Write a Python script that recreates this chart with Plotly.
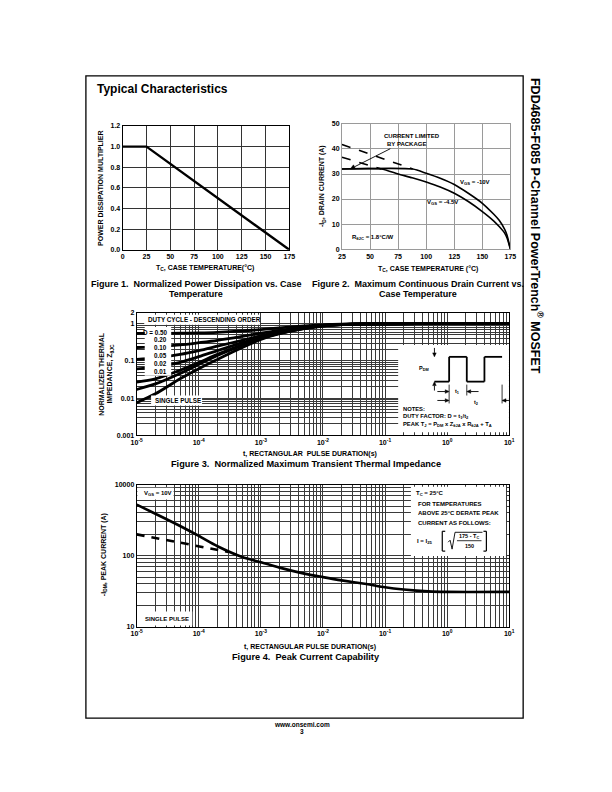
import math
import plotly.graph_objects as go

W, H = 612, 792
FONT = "Liberation Sans, Arial, Helvetica, sans-serif"


def X(p):
    return p / W


def Y(p):
    return 1 - p / H


# ---------------- data ----------------
# Figure 1: power derating
f1_temp = [0, 25, 175]
f1_mult = [1.0, 1.0, 0.0]
f1_xticks = [0, 25, 50, 75, 100, 125, 150, 175]
f1_yticks = [0.0, 0.2, 0.4, 0.6, 0.8, 1.0, 1.2]
f1_yticktext = ["0.0", "0.2", "0.4", "0.6", "0.8", "1.0", "1.2"]

# Figure 2: max continuous drain current
f2_temp_10v = [25, 88, 100, 112.5, 125, 137.5, 150, 160, 165, 170, 172, 175]
f2_id_10v = [32, 32, 30.3, 28.3, 25.8, 22.3, 18.3, 14.0, 11.5, 7.8, 5.5, 0]
f2_temp_45v = [25, 60, 75, 87.5, 100, 112.5, 125, 137.5, 150, 160, 165, 170, 172, 175]
f2_id_45v = [32, 32, 30.0, 28.5, 26.8, 24.8, 22.3, 19.0, 15.0, 11.3, 9.0, 6.3, 4.5, 0]
f2_temp_10v_unl = [25, 88]
f2_id_10v_unl = [41.8, 32]
f2_temp_45v_unl = [25, 60]
f2_id_45v_unl = [36.7, 32]
f2_xticks = [25, 50, 75, 100, 125, 150, 175]
f2_yticks = [0, 10, 20, 30, 40, 50]

# Figure 3: transient thermal impedance
f3_t = [1e-5, 2e-5, 5e-5, 1e-4, 2e-4, 5e-4, 1e-3, 2e-3, 5e-3, 1e-2, 2e-2, 5e-2, 1e-1, 1, 10]
f3_z = {
    "0.50": [0.55, 0.55, 0.56, 0.57, 0.59, 0.64, 0.70, 0.78, 0.88, 0.94, 0.98, 1.0, 1.0, 1.02, 1.02],
    "0.20": [0.23, 0.24, 0.27, 0.31, 0.36, 0.46, 0.56, 0.67, 0.82, 0.91, 0.97, 1.0, 1.0, 1.02, 1.02],
    "0.10": [0.11, 0.12, 0.15, 0.19, 0.25, 0.36, 0.48, 0.61, 0.78, 0.90, 0.96, 1.0, 1.0, 1.02, 1.02],
    "0.05": [0.061, 0.068, 0.092, 0.13, 0.19, 0.31, 0.44, 0.58, 0.77, 0.89, 0.96, 1.0, 1.0, 1.02, 1.02],
    "0.02": [0.027, 0.033, 0.056, 0.09, 0.15, 0.27, 0.41, 0.56, 0.76, 0.88, 0.96, 1.0, 1.0, 1.02, 1.02],
    "0.01": [0.017, 0.024, 0.046, 0.08, 0.14, 0.26, 0.40, 0.55, 0.75, 0.88, 0.95, 1.0, 1.0, 1.02, 1.02],
    "single": [0.0075, 0.013, 0.033, 0.062, 0.11, 0.23, 0.38, 0.54, 0.74, 0.87, 0.95, 0.99, 1.0, 1.02, 1.02],
}
f3_duty_labels = ["D = 0.50", "0.20", "0.10", "0.05", "0.02", "0.01"]
f3_xtickvals = [1e-5, 1e-4, 1e-3, 1e-2, 1e-1, 1, 10]
f3_xticktext = ["10<sup>-5</sup>", "10<sup>-4</sup>", "10<sup>-3</sup>", "10<sup>-2</sup>",
                "10<sup>-1</sup>", "10<sup>0</sup>", "10<sup>1</sup>"]
f3_ytickvals = [0.001, 0.01, 0.1, 1, 2]
f3_yticktext = ["0.001", "0.01", "0.1", "1", "2"]

# Figure 4: peak current capability
f4_t = [1e-5, 2e-5, 5e-5, 1e-4, 2e-4, 5e-4, 1e-3, 2e-3, 5e-3, 1e-2, 2e-2, 5e-2, 1e-1, 2e-1, 5e-1, 1, 10]
f4_i = [525, 390, 262, 190, 136, 96, 81, 68, 56, 50, 45, 40, 36, 33.5, 31.5, 31, 31]
f4_t_dash = [1e-5, 3e-5, 1e-4, 3e-4]
f4_i_dash = [200, 165, 135, 113]
f4_xtickvals = f3_xtickvals
f4_xticktext = f3_xticktext
f4_ytickvals = [10, 100, 1000]
f4_yticktext = ["10", "100", "10000"]


def minor_log(lo_exp, hi_exp):
    return [k * 10 ** e for e in range(lo_exp, hi_exp) for k in range(2, 10)]


# ---------------- figure ----------------
fig = go.Figure()

fig.add_trace(go.Scatter(x=f1_temp, y=f1_mult, mode="lines", line=dict(color="black", width=2.3),
                         xaxis="x", yaxis="y", showlegend=False))

for xs, ys, dash in [(f2_temp_10v, f2_id_10v, "solid"), (f2_temp_45v, f2_id_45v, "solid"),
                     (f2_temp_10v_unl, f2_id_10v_unl, "dash"), (f2_temp_45v_unl, f2_id_45v_unl, "dash")]:
    fig.add_trace(go.Scatter(x=xs, y=ys, mode="lines", line=dict(color="black", width=1.6, dash=dash,
                                                                 shape="spline", smoothing=0.6),
                             xaxis="x2", yaxis="y2", showlegend=False))

for key, zs in f3_z.items():
    fig.add_trace(go.Scatter(x=f3_t, y=zs, mode="lines", line=dict(color="black", width=2.8, shape="spline",
                                                                   smoothing=0.8),
                             xaxis="x3", yaxis="y3", showlegend=False))

fig.add_trace(go.Scatter(x=f4_t, y=f4_i, mode="lines", line=dict(color="black", width=2.6, shape="spline",
                                                                 smoothing=0.8),
                         xaxis="x4", yaxis="y4", showlegend=False))
fig.add_trace(go.Scatter(x=f4_t_dash, y=f4_i_dash, mode="lines",
                         line=dict(color="black", width=2.6, dash="8px,7px"),
                         xaxis="x4", yaxis="y4", showlegend=False))

tickfont = dict(family=FONT, size=7, color="black", weight="bold")
common = dict(showline=True, mirror=True, linewidth=1, ticks="", zeroline=False,
              tickfont=tickfont, fixedrange=True, tickmode="array")
GRID = "#3a3a3a"


def minor_grid(vals):
    return dict(tickmode="array", tickvals=vals, showgrid=True, gridcolor=GRID, gridwidth=0.7, ticks="")


fig.update_layout(
    width=W, height=H, margin=dict(l=0, r=0, t=0, b=0),
    paper_bgcolor="white", plot_bgcolor="white",
    font=dict(family=FONT, color="black"),
    xaxis=dict(domain=[X(119), X(289)], range=[0, 175], tickvals=f1_xticks, anchor="y",
               showgrid=True, gridcolor="#333", gridwidth=1, linecolor="black", **common),
    yaxis=dict(domain=[Y(248), Y(123)], range=[0, 1.2], tickvals=f1_yticks, ticktext=f1_yticktext,
               anchor="x", showgrid=True, gridcolor="#333", gridwidth=1, linecolor="black", **common),
    xaxis2=dict(domain=[X(342.7), X(514.5)], range=[25, 175], tickvals=f2_xticks, anchor="y2",
                showgrid=True, gridcolor="#9a9a9a", gridwidth=1, linecolor="#9a9a9a", **common),
    yaxis2=dict(domain=[Y(247.3), Y(121)], range=[0, 50], tickvals=f2_yticks, anchor="x2",
                showgrid=True, gridcolor="#9a9a9a", gridwidth=1, linecolor="#9a9a9a", **common),
    xaxis3=dict(domain=[X(133.3), X(513.3)], type="log", range=[-5, 1],
                tickvals=f3_xtickvals, ticktext=f3_xticktext, anchor="y3", minor=minor_grid(minor_log(-5, 1)),
                showgrid=True, gridcolor=GRID, gridwidth=0.8, linecolor="black", **common),
    yaxis3=dict(domain=[Y(435), Y(311.4)], type="log", range=[-3, math.log10(2)],
                tickvals=f3_ytickvals, ticktext=f3_yticktext, anchor="x3", minor=minor_grid(minor_log(-3, 0)),
                showgrid=True, gridcolor=GRID, gridwidth=0.8, linecolor="black", **common),
    xaxis4=dict(domain=[X(133.3), X(513.3)], type="log", range=[-5, 1],
                tickvals=f4_xtickvals, ticktext=f4_xticktext, anchor="y4", minor=minor_grid(minor_log(-5, 1)),
                showgrid=True, gridcolor=GRID, gridwidth=0.8, linecolor="black", **common),
    yaxis4=dict(domain=[Y(628.3), Y(485)], type="log", range=[1, 3],
                tickvals=f4_ytickvals, ticktext=f4_yticktext, anchor="x4", minor=minor_grid(minor_log(1, 3)),
                showgrid=True, gridcolor=GRID, gridwidth=0.8, linecolor="black", **common),
)

annotations = []
shapes = []


def txt(x, y, s, size=6.3, xa="left", ya="middle", angle=0, bold=True):
    annotations.append(dict(x=X(x), y=Y(y), xref="paper", yref="paper", text=s, showarrow=False,
                            xanchor=xa, yanchor=ya, textangle=angle,
                            font=dict(family=FONT, size=size, color="black",
                                      weight="bold" if bold else "normal")))


def rect(x0, y0, x1, y1, fill="white"):
    shapes.append(dict(type="rect", xref="paper", yref="paper", x0=X(x0), x1=X(x1), y0=Y(y0), y1=Y(y1),
                       fillcolor=fill, line=dict(width=0), layer="above"))


def seg(x0, y0, x1, y1, width=1, color="black"):
    shapes.append(dict(type="line", xref="paper", yref="paper", x0=X(x0), x1=X(x1), y0=Y(y0), y1=Y(y1),
                       line=dict(color=color, width=width), layer="above"))


def arrow(xh, yh, xt, yt, width=0.9, hl=4.0, hw=1.8):
    dx, dy = xh - xt, yh - yt
    n = math.hypot(dx, dy)
    ux, uy = dx / n, dy / n
    bx, by = xh - ux * hl, yh - uy * hl
    seg(xt, yt, bx, by, width=width)
    p1 = (bx - uy * hw, by + ux * hw)
    p2 = (bx + uy * hw, by - ux * hw)
    path = "M {},{} L {},{} L {},{} Z".format(X(xh), Y(yh), X(p1[0]), Y(p1[1]), X(p2[0]), Y(p2[1]))
    shapes.append(dict(type="path", xref="paper", yref="paper", path=path, fillcolor="black",
                       line=dict(color="black", width=0.5), layer="above"))


# page frame
shapes.append(dict(type="rect", xref="paper", yref="paper", x0=X(81.5), x1=X(527.5), y0=Y(720.5), y1=Y(72.5),
                   line=dict(color="black", width=1.3), fillcolor="rgba(0,0,0,0)", layer="below"))

txt(91, 86, "Typical Characteristics", size=12)
txt(541, 73, "FDD4685-F085 P-Channel PowerTrench<sup>®</sup> MOSFET", size=12.5, xa="center", ya="top",
    angle=90)
txt(302, 727, "www.onsemi.com", size=6.5, xa="center")
txt(302, 733.5, "3", size=6.5, xa="center")

# Figure 1 texts
txt(97, 185.5, "POWER DISSIPATION MULTIPLIER", size=7, xa="center", angle=-90)
txt(203, 266, "T<sub>C</sub>, CASE TEMPERATURE(°C)", size=7, xa="center")
txt(194, 282, "Figure 1.  Normalized Power Dissipation vs. Case", size=9, xa="center")
txt(194, 292.5, "Temperature", size=9, xa="center")

# Figure 2 texts
txt(323, 184, "-I<sub>D</sub>, DRAIN CURRENT (A)", size=7, xa="center", angle=-90)
txt(430, 267, "T<sub>C</sub>, CASE TEMPERATURE (°C)", size=7, xa="center")
txt(420, 282, "Figure 2.  Maximum Continuous Drain Current vs.", size=9, xa="center")
txt(420, 292.5, "Case Temperature", size=9, xa="center")
txt(384, 133, "CURRENT LIMITED", size=6)
txt(387, 141, "BY PACKAGE", size=6)
arrow(351, 166.5, 392, 146, hl=5, hw=2.2)
txt(461, 180, "V<sub>GS</sub> = -10V", size=6)
txt(427, 200.5, "V<sub>GS</sub> = -4.5V", size=6)
txt(351, 236, "R<sub>θJC</sub> = 1.8°C/W", size=6)

# Figure 3 texts
txt(98, 373, "NORMALIZED THERMAL", size=7, xa="center", angle=-90)
txt(106, 373, "IMPEDANCE, Z<sub>θJC</sub>", size=7, xa="center", angle=-90)
txt(310, 454, "t, RECTANGULAR  PULSE DURATION(s)", size=7, xa="center")
txt(306, 464.5, "Figure 3.  Normalized Maximum Transient Thermal Impedance", size=9.2, xa="center")
rect(141, 313.5, 259, 323.5)
txt(143, 318.5, "DUTY CYCLE - DESCENDING ORDER", size=6.3)
rect(141.5, 326, 168.5, 375)
duty_y = [331, 338.5, 346.5, 354.5, 362.3, 370.5]
for lab, yy in zip(f3_duty_labels, duty_y):
    txt(166, yy, lab, size=6.3, xa="right")
rect(148, 395, 200, 405)
txt(150, 400, "SINGLE PULSE", size=6.3)

# notes inset
rect(400, 344, 513, 432)
txt(403, 409, "NOTES:", size=5.8)
txt(403, 416, "DUTY FACTOR: D = t<sub>1</sub>/t<sub>2</sub>", size=5.8)
txt(403, 424, "PEAK T<sub>J</sub> = P<sub>DM</sub> x Z<sub>θJA</sub> x R<sub>θJA</sub> + T<sub>A</sub>", size=5.8)
wave = [(437, 381), (452, 381), (452, 356), (470, 356), (470, 381), (488, 381), (488, 356), (506, 356)]
for (a, b), (c, d) in zip(wave[:-1], wave[1:]):
    seg(a, b, c, d, width=1.8)
txt(426, 368, "P<sub>DM</sub>", size=5.5, xa="center")
arrow(437, 356, 437, 347)
arrow(437, 381, 437, 390)
seg(452, 384, 452, 403, width=0.8)
seg(470, 384, 470, 395, width=0.8)
seg(506, 384, 506, 403, width=0.8)
arrow(452, 391, 440, 391)
arrow(470, 391, 482, 391)
txt(461, 391, "t<sub>1</sub>", size=5.5, xa="center")
arrow(452, 400, 440, 400)
arrow(506, 400, 513, 400)
txt(479, 402, "t<sub>2</sub>", size=5.5, xa="center")

# Figure 4 texts
txt(100, 556, "-I<sub>DM</sub>, PEAK CURRENT (A)", size=7, xa="center", angle=-90)
txt(310, 649, "t, RECTANGULAR PULSE DURATION(s)", size=7, xa="center")
txt(306, 658.5, "Figure 4.  Peak Current Capability", size=9.2, xa="center")
rect(134, 488, 171, 500)
txt(139, 494, "V<sub>GS</sub> = 10V", size=6)
rect(134, 613, 190, 627)
txt(140, 620, "SINGLE PULSE", size=6)
rect(413, 487, 510, 557)
txt(416, 494, "T<sub>C</sub> = 25°C", size=6)
txt(418, 504.5, "FOR TEMPERATURES", size=6)
txt(418, 514, "ABOVE 25°C DERATE PEAK", size=6)
txt(418, 523.5, "CURRENT AS FOLLOWS:", size=6)
txt(438, 542, "I = I<sub>25</sub>", size=6, xa="right")
seg(445, 532, 445, 552, width=1.2)
seg(445, 532, 448, 532, width=1.2)
seg(445, 552, 448, 552, width=1.2)
seg(490, 532, 490, 552, width=1.2)
seg(487, 532, 490, 532, width=1.2)
seg(487, 552, 490, 552, width=1.2)
seg(451, 543, 453, 541, width=0.9)
seg(453, 541, 455, 550, width=0.9)
seg(455, 550, 458, 533, width=0.9)
seg(458, 533, 486, 533, width=0.9)
seg(460, 541.5, 485, 541.5, width=0.8)
txt(472.5, 537, "175 - T<sub>C</sub>", size=5.5, xa="center")
txt(472.5, 547, "150", size=5.5, xa="center")

fig.update_layout(annotations=annotations, shapes=shapes)
fig.write_html("out.html", config={"displayModeBar": False},
               post_script="document.body.style.margin='0px';")
